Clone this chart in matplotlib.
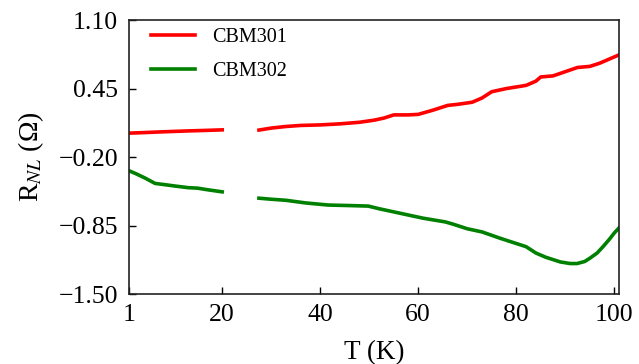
import matplotlib.pyplot as plt
import numpy as np

# Data (T in K, R_NL in Ohm); gap between 20 K and 27.5 K
t_301_low = [1, 4, 7, 10, 13, 16, 20]
r_301_low = [0.027, 0.032, 0.038, 0.043, 0.048, 0.052, 0.058]
t_301_high = [27.5, 30, 33, 36, 40, 44, 48, 51, 53, 55, 58, 60, 63, 66, 68, 71, 73, 75,
              78, 82, 84, 85, 87.5, 90, 92.5, 95, 97, 98.5, 100, 101]
r_301_high = [0.056, 0.075, 0.09, 0.10, 0.105, 0.115, 0.13, 0.15, 0.17, 0.20, 0.20, 0.205,
              0.245, 0.29, 0.30, 0.32, 0.36, 0.42, 0.45, 0.48, 0.52, 0.56, 0.57, 0.61,
              0.65, 0.66, 0.69, 0.72, 0.75, 0.77]

t_302_low = [1, 2.5, 4.3, 6.3, 8, 10.4, 13, 15, 17, 20]
r_302_low = [-0.33, -0.36, -0.40, -0.45, -0.46, -0.475, -0.49, -0.495, -0.51, -0.53]
t_302_high = [27.5, 30, 33, 37, 41.6, 46, 49.8, 52, 55, 58, 61, 65.5, 67, 70, 73, 76.7,
              80, 82, 84, 86, 89, 91, 92.4, 94, 95, 96.5, 97.7, 99, 100, 101]
r_302_high = [-0.59, -0.60, -0.61, -0.635, -0.655, -0.66, -0.665, -0.69, -0.72, -0.75,
              -0.78, -0.815, -0.835, -0.88, -0.91, -0.97, -1.02, -1.05, -1.11, -1.15,
              -1.195, -1.21, -1.21, -1.19, -1.16, -1.11, -1.05, -0.98, -0.92, -0.87]

plt.rcParams['font.family'] = ['Liberation Serif', 'DejaVu Serif']
plt.rcParams['mathtext.fontset'] = 'stix'

fig = plt.figure(figsize=(6.39, 3.64), dpi=100)
ax = fig.add_axes([0.202, 0.192, 0.767, 0.753])

ax.plot(t_301_low, r_301_low, color='red', lw=2.6, label='CBM301')
ax.plot(t_301_high, r_301_high, color='red', lw=2.6)
ax.plot(t_302_low, r_302_low, color='green', lw=2.6, label='CBM302')
ax.plot(t_302_high, r_302_high, color='green', lw=2.6)

ax.set_xlim(1, 101)
ax.set_ylim(-1.50, 1.10)
ax.set_xticks([1, 20, 40, 60, 80, 100])
ax.set_yticks([-1.50, -0.85, -0.20, 0.45, 1.10])
ax.set_yticklabels(['\u22121.50', '\u22120.85', '\u22120.20', '0.45', '1.10'])
ax.tick_params(direction='in', length=5, width=1, labelsize=18.5)
ax.tick_params(axis='y', pad=8)
ax.tick_params(axis='x', pad=7)
for s in ax.spines.values():
    s.set_linewidth(1.2)
    s.set_color('#222222')

ax.set_xlabel('T (K)', fontsize=19.5, labelpad=10)
ax.set_ylabel('R$_{NL}$ (\u03a9)', fontsize=20, labelpad=9)

ax.legend(loc='upper left', frameon=False, fontsize=14.5, handlelength=2.2,
          handletextpad=0.85, borderaxespad=0.2, labelspacing=0.72,
          bbox_to_anchor=(0.02, 1.015))

plt.savefig('out.png', dpi=100)
